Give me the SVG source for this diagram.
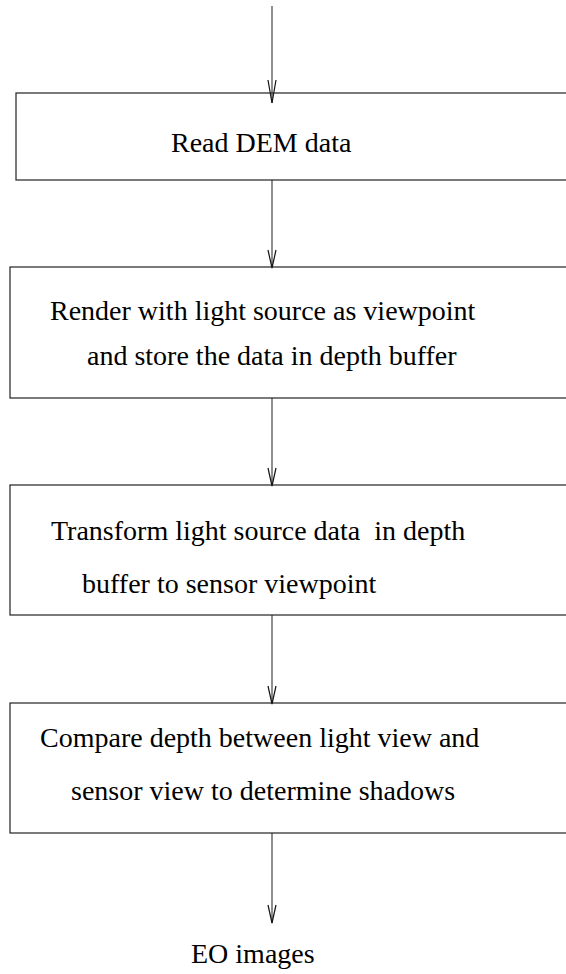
<svg xmlns="http://www.w3.org/2000/svg" width="566" height="974" viewBox="0 0 566 974">
<style>
.box{fill:none;stroke:#222;stroke-width:1.2}
.con{fill:none;stroke:#444;stroke-width:1.2}
.ah{fill:none;stroke:#111;stroke-width:1.2}
text{font-family:"Liberation Serif","Times New Roman",serif;font-size:28px;fill:#000}
</style>
<defs>
<marker id="arr" markerUnits="userSpaceOnUse" markerWidth="12" markerHeight="16" viewBox="-6 -14 12 16" refX="0" refY="0" orient="auto-start-reverse">
<path d="M-4,-13 L0,0 L4,-13" class="ah" transform="rotate(-90)"/>
</marker>
</defs>
<g id="connectors">
<line class="con" x1="272" y1="6" x2="272" y2="103"/>
<path class="ah" d="M268,80 L272,103 L276,80"/>
<line class="con" x1="272" y1="180" x2="272" y2="268"/>
<path class="ah" d="M268,250 L272,268 L276,250"/>
<line class="con" x1="272" y1="398" x2="272" y2="486"/>
<path class="ah" d="M268,468 L272,486 L276,468"/>
<line class="con" x1="272" y1="615" x2="272" y2="704"/>
<path class="ah" d="M268,686 L272,704 L276,686"/>
<line class="con" x1="272" y1="833" x2="272" y2="923"/>
<path class="ah" d="M268,905 L272,923 L276,905"/>
</g>
<g id="n1">
<rect class="box" x="16" y="93" width="560" height="87"/>
<text x="171" y="152">Read DEM data</text>
</g>
<g id="n2">
<rect class="box" x="10" y="267" width="566" height="131"/>
<text x="50" y="320">Render with light source as viewpoint</text>
<text x="87" y="365">and store the data in depth buffer</text>
</g>
<g id="n3">
<rect class="box" x="10" y="485" width="566" height="130"/>
<text x="51" y="540" xml:space="preserve">Transform light source data  in depth</text>
<text x="82" y="593">buffer to sensor viewpoint</text>
</g>
<g id="n4">
<rect class="box" x="10" y="703" width="566" height="130"/>
<text x="40" y="747">Compare depth between light view and</text>
<text x="71" y="800">sensor view to determine shadows</text>
</g>
<g id="n5">
<text x="191" y="963">EO images</text>
</g>
</svg>
